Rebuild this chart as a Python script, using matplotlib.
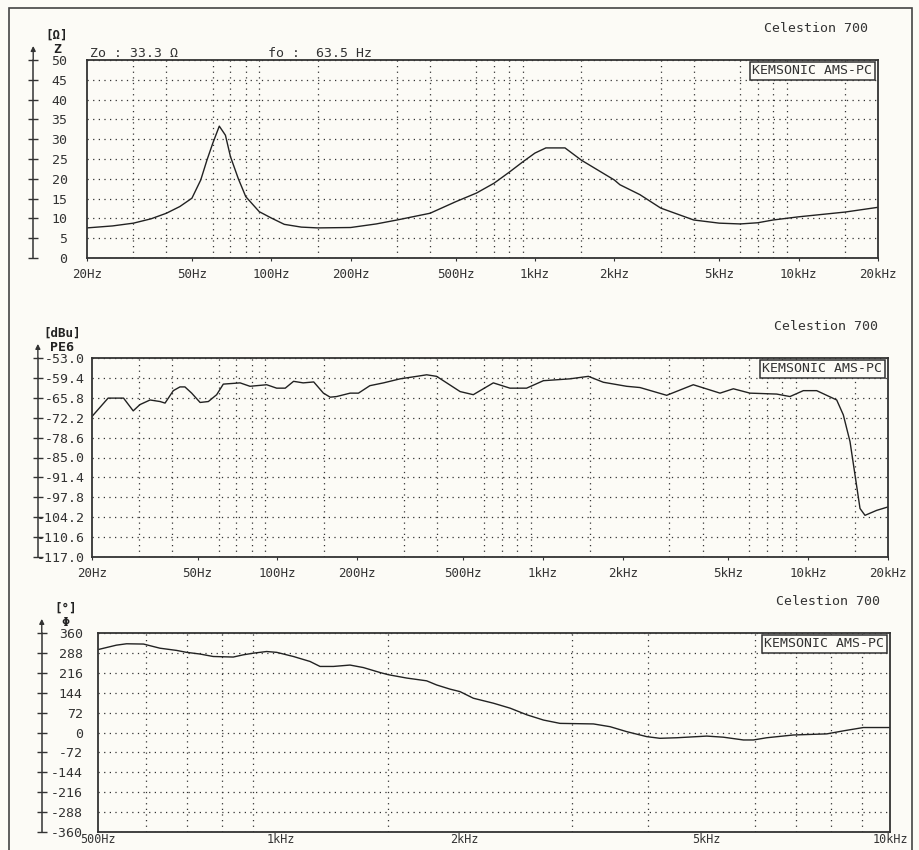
import matplotlib
matplotlib.use("Agg")
import matplotlib.pyplot as plt
from matplotlib.patches import Rectangle
from matplotlib.ticker import FixedLocator, NullFormatter

plt.rcParams['font.family'] = ['DejaVu Sans Mono']
plt.rcParams['axes.unicode_minus'] = False

# ---- data ----
# impedance
imp_freq = [20, 25, 30, 35, 40, 45, 50, 54, 57, 60, 63.5, 67, 70, 75, 80, 90, 100, 112,
            130, 150, 200, 250, 300, 400, 500, 600, 700, 800, 900, 1000, 1100, 1300,
            1500, 2000, 2100, 2500, 3000, 4000, 5000, 6000, 7000, 8000, 10000, 15000, 20000]
imp_ohm = [7.6, 8.1, 8.8, 9.9, 11.3, 13.0, 15.1, 19.7, 24.7, 29.0, 33.3, 31.0, 25.6, 20.0,
           15.5, 11.7, 10.1, 8.5, 7.8, 7.6, 7.7, 8.6, 9.6, 11.3, 14.2, 16.4, 18.9, 21.7,
           24.3, 26.5, 27.8, 27.8, 24.7, 19.7, 18.5, 16.0, 12.6, 9.6, 8.8, 8.6, 8.9, 9.6,
           10.4, 11.6, 12.8]

# frequency response
resp_freq = [20, 23, 26.3, 28.6, 30.3, 33.1, 36.1, 37.7, 40.5, 42.9, 44.8, 47.5, 51.1, 54.9,
             59, 62.5, 72.3, 78.8, 91.1, 99.3, 107, 115, 125, 137, 149, 158, 167, 188, 202,
             223, 251, 290, 335, 365, 398, 488, 547, 651, 752, 869, 1005, 1266, 1485, 1691,
             2070, 2324, 2930, 3692, 4655, 5226, 6038, 7612, 8544, 9592, 10768, 11746,
             12814, 13572, 14384, 15020, 15688, 16384, 18130, 20000]
resp_dbu = [-71.8, -65.9, -65.9, -70.0, -68.0, -66.5, -67.0, -67.5, -63.5, -62.3, -62.3,
            -64.3, -67.3, -67.0, -64.8, -61.4, -61.0, -62.1, -61.6, -62.7, -62.7, -60.5,
            -61.0, -60.7, -64.3, -65.6, -65.4, -64.3, -64.3, -61.9, -61.0, -59.7, -58.9,
            -58.4, -58.9, -63.8, -64.8, -61.0, -62.7, -62.7, -60.3, -59.7, -58.9, -60.8,
            -62.1, -62.5, -65.0, -61.6, -64.3, -62.9, -64.3, -64.6, -65.4, -63.5, -63.5,
            -65.0, -66.5, -71.3, -79.9, -90.6, -101.4, -103.6, -102.0, -100.9]

# phase
ph_freq = [500, 536, 557, 594, 632, 673, 699, 735, 773, 834, 866, 900, 946, 983, 1047,
           1115, 1158, 1218, 1297, 1364, 1453, 1500, 1607, 1733, 1800, 1893, 1966, 2068,
           2231, 2377, 2532, 2697, 2870, 3257, 3469, 3695, 3985, 4190, 4463, 5000, 5326,
           5744, 5965, 6273, 6941, 7873, 8386, 9043, 10000]
ph_deg = [300, 316, 321, 320, 305, 297, 290, 284, 275, 273, 281, 287, 293, 290, 275, 257,
          239, 239, 244, 235, 217, 209, 197, 187, 172, 157, 148, 124, 106, 88, 64, 45, 33,
          31, 21, 3, -15, -21, -19, -13, -17, -27, -27, -19, -9, -5, 6, 18, 18]

# ticks / grids
wide_ticks = [20, 50, 100, 200, 500, 1000, 2000, 5000, 10000, 20000]
wide_labels = ['20Hz', '50Hz', '100Hz', '200Hz', '500Hz', '1kHz', '2kHz', '5kHz', '10kHz', '20kHz']
wide_grid = [30, 40, 50, 60, 70, 80, 90, 100, 150, 200, 300, 400, 500, 600, 700, 800, 900,
             1000, 1500, 2000, 3000, 4000, 5000, 6000, 7000, 8000, 9000, 10000, 15000]
ph_ticks = [500, 1000, 2000, 5000, 10000]
ph_labels = ['500Hz', '1kHz', '2kHz', '5kHz', '10kHz']
ph_grid = [600, 700, 800, 900, 1000, 1500, 2000, 3000, 4000, 5000, 6000, 7000, 8000, 9000]

imp_yticks = [0, 5, 10, 15, 20, 25, 30, 35, 40, 45, 50]
resp_yticks = [-117.0, -110.6, -104.2, -97.8, -91.4, -85.0, -78.6, -72.2, -65.8, -59.4, -53.0]
ph_yticks = [-360, -288, -216, -144, -72, 0, 72, 144, 216, 288, 360]

W, H = 920, 850
bg = '#fcfbf6'
fig = plt.figure(figsize=(W / 100, H / 100), dpi=100, facecolor=bg)

# outer frame of the page
fig.patches.append(Rectangle((9 / W, -0.02), 903 / W, (H - 8) / H + 0.02,
                             transform=fig.transFigure, fill=False, ec='#444444', lw=1.2))


def panel(rect, freq, vals, xlim, ylim, yticks, ylabels, xticks, xlabels, grid,
          unit, qty, axloc, ypad, xpad=5, xlen=2, xsize=9, extra=None):
    ax = fig.add_axes([rect[0] / W, 1 - rect[3] / H, (rect[2] - rect[0]) / W,
                       (rect[3] - rect[1]) / H])
    ax.set_facecolor(bg)
    ax.plot(freq, vals, color='#222222', lw=1.0)
    ax.set_xscale('log')
    ax.set_xlim(*xlim)
    ax.set_ylim(*ylim)
    ax.xaxis.set_major_locator(FixedLocator(xticks))
    ax.xaxis.set_minor_locator(FixedLocator(grid))
    ax.xaxis.set_minor_formatter(NullFormatter())
    ax.set_xticklabels(xlabels)
    ax.set_yticks(yticks)
    ax.set_yticklabels(ylabels)
    ax.tick_params(axis='x', which='major', length=xlen, pad=xpad, labelsize=xsize,
                   colors='#333333')
    ax.tick_params(axis='x', which='minor', length=0)
    ax.tick_params(axis='y', length=0, pad=ypad, labelsize=9.5, colors='#333333')
    ax.grid(which='minor', axis='x', color='#333333', lw=0.9, ls=(0, (1, 3.5)))
    ax.grid(which='major', axis='y', color='#333333', lw=0.9, ls=(0, (1, 3.5)))
    ax.grid(which='major', axis='x', visible=False)
    for s in ax.spines.values():
        s.set_linewidth(1.3)
        s.set_color('#333333')

    # separate value axis with crosses
    sec = ax.secondary_yaxis(axloc)
    sec.set_yticks(yticks)
    sec.set_yticklabels([''] * len(yticks))
    sec.tick_params(direction='inout', length=7, width=1, colors='#333333')
    sec.spines['left'].set_linewidth(1.1)
    sec.spines['left'].set_color('#333333')
    ax.annotate('', xy=(axloc, 1.085), xytext=(axloc, 0.99), xycoords='axes fraction',
                arrowprops=dict(arrowstyle='-|>', lw=1, color='#333333', mutation_scale=7))

    ax.text(axloc + 0.03, 1.125, unit, transform=ax.transAxes, ha='center', va='center',
            fontsize=9, fontweight='bold', color='#222222')
    ax.text(axloc + 0.03, 1.055, qty, transform=ax.transAxes, ha='center', va='center',
            fontsize=9.5, fontweight='bold', color='#222222')
    ax.text(0.987, 1.16, 'Celestion 700', transform=ax.transAxes, ha='right',
            va='center', fontsize=9.5, color='#333333')
    ax.annotate('KEMSONIC AMS-PC', xy=(1, 1), xycoords='axes fraction', xytext=(-4, -3),
                textcoords='offset points', ha='right', va='top', fontsize=9.5,
                color='#333333',
                bbox=dict(boxstyle='square,pad=0.2', fc=bg, ec='#333333', lw=1.1))
    if extra:
        for x, s in extra:
            ax.text(x, 1.035, s, transform=ax.transAxes, ha='left', va='center',
                    fontsize=9.5, color='#333333')
    return ax


panel((87, 60, 878, 258), imp_freq, imp_ohm, (20, 20000), (0, 50), imp_yticks,
      [str(v) for v in imp_yticks], wide_ticks, wide_labels, wide_grid,
      '[Ω]', 'Z', -0.068, 14,
      extra=[(0.004, 'Zo : 33.3 Ω'), (0.229, 'fo :  63.5 Hz')])

panel((92, 358, 888, 557), resp_freq, resp_dbu, (20, 20000), (-117.0, -53.0), resp_yticks,
      ['%.1f' % v for v in resp_yticks], wide_ticks, wide_labels, wide_grid,
      '[dBu]', 'PE6', -0.068, 5)

panel((98, 633, 890, 832), ph_freq, ph_deg, (500, 10000), (-360, 360), ph_yticks,
      [str(v) for v in ph_yticks], ph_ticks, ph_labels, ph_grid,
      '[°]', 'Φ', -0.071, 11, xpad=0.5, xlen=0, xsize=8.5)

fig.savefig('out.png', dpi=100, facecolor=bg)
